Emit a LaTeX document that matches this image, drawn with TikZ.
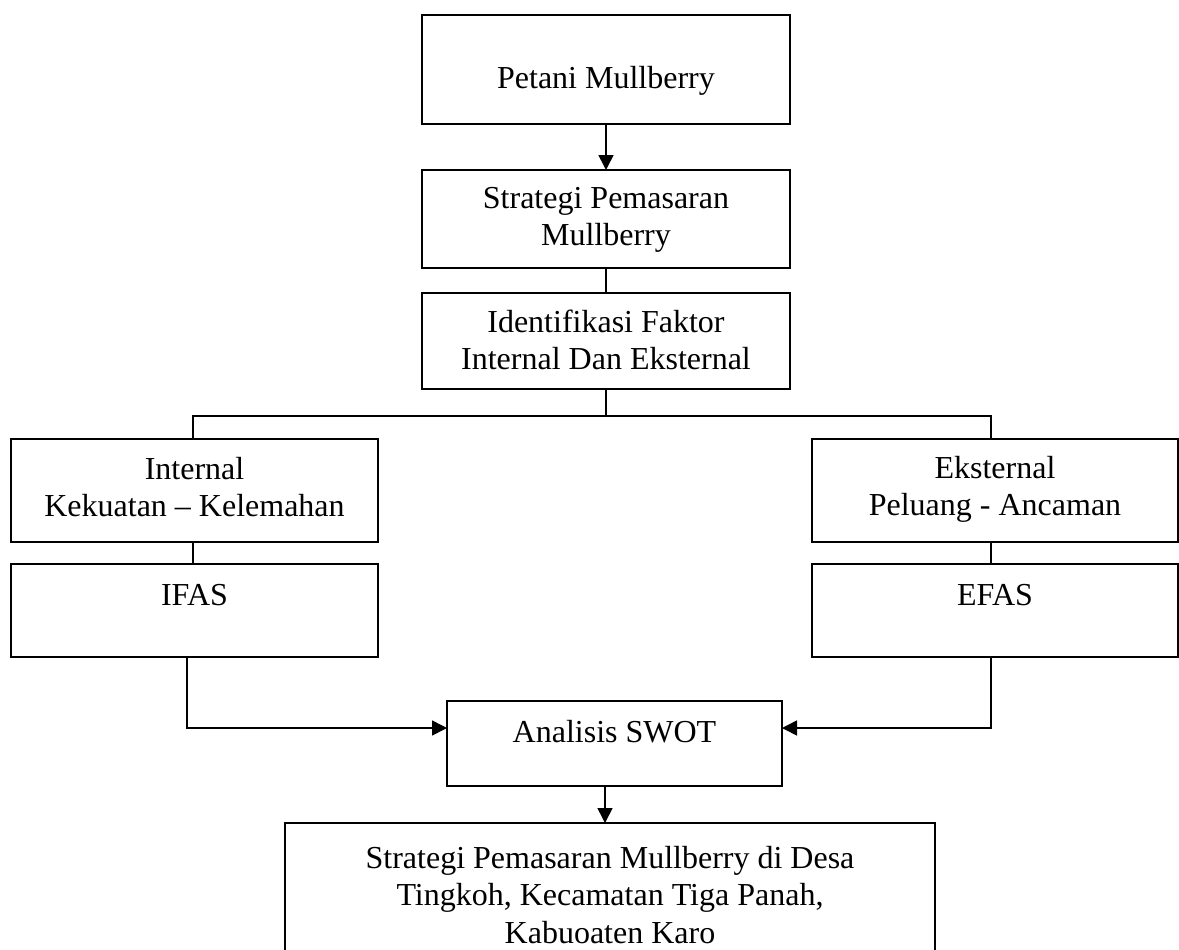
\documentclass[tikz,border=0pt]{standalone}
\usepackage{fontspec}
\setmainfont{Liberation Serif}
\usetikzlibrary{arrows.meta}
\newcommand{\mlines}[1]{\begin{tabular}[t]{@{}c@{}}#1\end{tabular}}
\begin{document}
\begin{tikzpicture}[x=0.5pt,y=-0.5pt,
  box/.style={draw, line width=0.8pt, rectangle, anchor=north west, inner sep=0pt, outer sep=0pt},
  txt/.style={anchor=base, inner sep=0pt, font=\fontsize{16}{18.75}\selectfont},
  conn/.style={line width=0.8pt},
  arr/.style={line width=0.8pt, -{Triangle[length=7.5pt,width=7.5pt]}}]
\useasboundingbox (0,0) rectangle (1179,949);
% boxes
\node[box, minimum width=184pt, minimum height=54.5pt] (b1) at (422,15) {};
\node[box, minimum width=184pt, minimum height=49pt] (b2) at (422,170) {};
\node[box, minimum width=184pt, minimum height=48pt] (b3) at (422,293) {};
\node[box, minimum width=183.5pt, minimum height=51.5pt] (int) at (11,439) {};
\node[box, minimum width=183.5pt, minimum height=46.5pt] (ifas) at (11,564) {};
\node[box, minimum width=183pt, minimum height=51.5pt] (ext) at (812,439) {};
\node[box, minimum width=183pt, minimum height=46.5pt] (efas) at (812,564) {};
\node[box, minimum width=167.5pt, minimum height=42.5pt] (swot) at (447,701) {};
\node[box, minimum width=325pt, minimum height=64.5pt] (bot) at (285,823) {};
% texts
\node[txt] (t1) at (606,88) {Petani Mullberry};
\node[txt] (t2) at (606,208) {\mlines{Strategi Pemasaran\\Mullberry}};
\node[txt] (t3) at (606,332) {\mlines{Identifikasi Faktor\\Internal Dan Eksternal}};
\node[txt] (t4) at (194.5,479) {\mlines{Internal\\Kekuatan – Kelemahan}};
\node[txt] (t5) at (194.5,605) {IFAS};
\node[txt] (t6) at (995,478) {\mlines{Eksternal\\Peluang - Ancaman}};
\node[txt] (t7) at (995,605) {EFAS};
\node[txt] (t8) at (614.5,742) {Analisis SWOT};
\node[txt] (t9) at (610,868) {\mlines{Strategi Pemasaran Mullberry di Desa\\Tingkoh, Kecamatan Tiga Panah,\\Kabuoaten Karo}};
% connectors
\draw[arr] (b1.south) -- (b2.north);
\draw[conn] (b2.south) -- (b3.north);
\coordinate (split) at (606,416);
\draw[conn] (b3.south) -- (split);
\draw[conn] ([xshift=-0.75pt]int.north) |- (split) -| ([xshift=-2pt]ext.north);
\draw[conn] ([xshift=-0.75pt]int.south) -- ([xshift=-0.75pt]ifas.north);
\draw[conn] ([xshift=-2pt]ext.south) -- ([xshift=-2pt]efas.north);
\draw[arr] ([xshift=-3.75pt]ifas.south) |- ([yshift=7.75pt]swot.west);
\draw[arr] ([xshift=-2pt]efas.south) |- ([yshift=7.75pt]swot.east);
\draw[arr] ([xshift=-4.75pt]swot.south) coordinate (sa) -- (sa |- bot.north);
\end{tikzpicture}
\end{document}
